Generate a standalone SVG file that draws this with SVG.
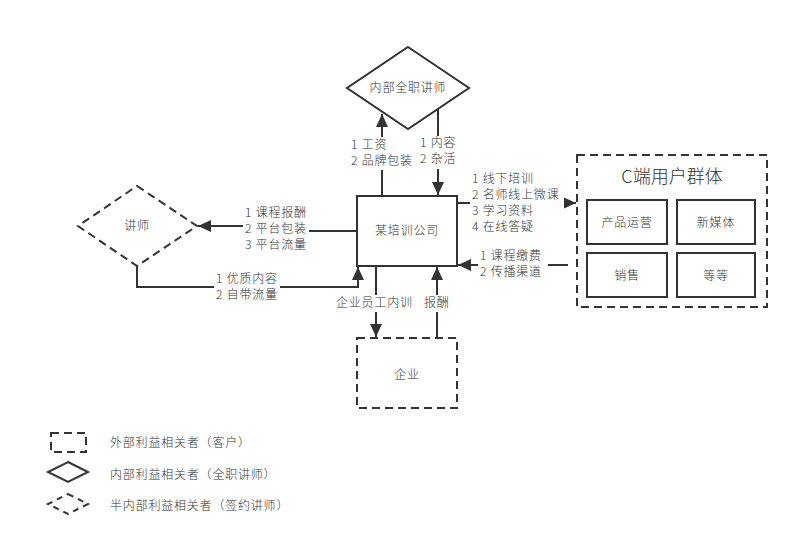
<svg xmlns="http://www.w3.org/2000/svg" width="798" height="556" viewBox="0 0 798 556">
<style>
text{font-family:"Noto Sans CJK SC","Noto Sans",sans-serif;font-size:12px;letter-spacing:0.8px;font-weight:300;fill:#333}
.s{fill:#fff;stroke:#333;stroke-width:2}
.d{fill:#fff;stroke:#333;stroke-width:2;stroke-dasharray:8 5}
.c{fill:none;stroke:#333;stroke-width:2}
.bg{fill:#fff}
.m{text-anchor:middle}
</style>
<defs>
<marker id="a" markerUnits="userSpaceOnUse" markerWidth="14" markerHeight="12" refX="13" refY="6" orient="auto">
<path d="M0,0 L13,6 L0,12 Z" fill="#333"/>
</marker>
</defs>
<rect width="798" height="556" fill="#fff"/>
<g id="connectors">
<path class="c" d="M382,196 V114" marker-end="url(#a)"/>
<path class="c" d="M438,109 V195" marker-end="url(#a)"/>
<path class="c" d="M457,203 H576" marker-end="url(#a)"/>
<path class="c" d="M568,265 H458" marker-end="url(#a)"/>
<path class="c" d="M357,231 H270 V226 H198" marker-end="url(#a)"/>
<path class="c" d="M137,266 V287 H358 V267" marker-end="url(#a)"/>
<path class="c" d="M376,266 V337" marker-end="url(#a)"/>
<path class="c" d="M437,338 V267" marker-end="url(#a)"/>
</g>
<g id="labels">
<rect class="bg" x="349" y="137" width="68" height="33"/>
<text x="351" y="149">1 工资</text>
<text x="351" y="165">2 品牌包装</text>
<rect class="bg" x="418" y="136" width="44" height="33"/>
<text x="420" y="147">1 内容</text>
<text x="420" y="163">2 杂活</text>
<rect class="bg" x="470" y="172" width="94" height="63"/>
<text x="472" y="183">1 线下培训</text>
<text x="472" y="199">2 名师线上微课</text>
<text x="472" y="215">3 学习资料</text>
<text x="472" y="231">4 在线答疑</text>
<rect class="bg" x="478" y="249" width="70" height="30"/>
<text x="480" y="260">1 课程缴费</text>
<text x="480" y="276">2 传播渠道</text>
<rect class="bg" x="243" y="206" width="66" height="46"/>
<text x="245" y="217">1 课程报酬</text>
<text x="245" y="233">2 平台包装</text>
<text x="245" y="249">3 平台流量</text>
<rect class="bg" x="214" y="272" width="66" height="30"/>
<text x="216" y="283">1 优质内容</text>
<text x="216" y="299">2 自带流量</text>
<rect class="bg" x="335" y="295" width="80" height="17"/>
<text x="336" y="307">企业员工内训</text>
<rect class="bg" x="422" y="295" width="30" height="17"/>
<text x="424" y="307">报酬</text>
</g>
<g id="node-fulltime">
<polygon class="s" points="408,47 469,88 408,129 347,88"/>
<text class="m" x="408" y="92">内部全职讲师</text>
</g>
<g id="node-company">
<rect class="s" x="357" y="196" width="100" height="70"/>
<text class="m" x="407" y="235">某培训公司</text>
</g>
<g id="node-lecturer">
<polygon class="d" points="137,186 197,226 137,266 78,226"/>
<text class="m" x="137" y="230">讲师</text>
</g>
<g id="node-cusers">
<rect class="d" x="577" y="155" width="190" height="152"/>
<text class="m" x="672" y="183" style="font-size:18px;letter-spacing:0">C端用户群体</text>
<rect class="s" x="587" y="200" width="80" height="44"/>
<text class="m" x="627" y="227">产品运营</text>
<rect class="s" x="677" y="200" width="78" height="44"/>
<text class="m" x="716" y="227">新媒体</text>
<rect class="s" x="587" y="253" width="80" height="44"/>
<text class="m" x="627" y="280">销售</text>
<rect class="s" x="677" y="253" width="78" height="44"/>
<text class="m" x="716" y="280">等等</text>
</g>
<g id="node-enterprise">
<rect class="d" x="357" y="338" width="100" height="70"/>
<text class="m" x="407" y="379">企业</text>
</g>
<g id="legend">
<rect class="d" x="51" y="433" width="35" height="19"/>
<text x="110" y="447">外部利益相关者（客户）</text>
<polygon class="s" points="68,462 88,472 68,482 48,472"/>
<text x="110" y="479">内部利益相关者（全职讲师）</text>
<polygon class="d" points="68,494 88,504 68,514 48,504" style="stroke-dasharray:6 5"/>
<text x="110" y="510">半内部利益相关者（签约讲师）</text>
</g>
</svg>
